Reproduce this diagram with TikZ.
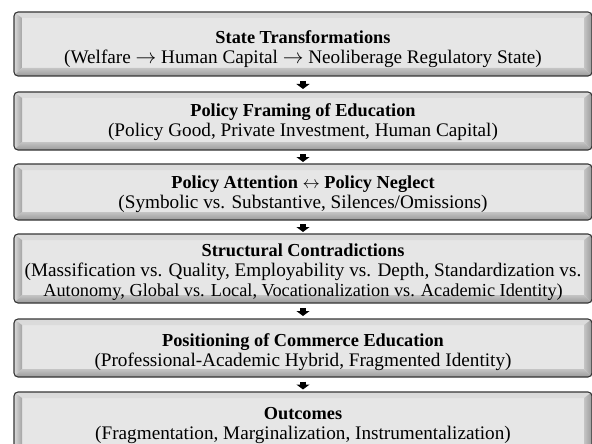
\documentclass[tikz,border=0pt]{standalone}
\usepackage{fontspec}
\setmainfont{Liberation Serif}
\usetikzlibrary{arrows.meta,calc}

\definecolor{face}{HTML}{E6E6E6}
\definecolor{edge}{HTML}{363636}
\definecolor{bevlight}{HTML}{DADADA}
\definecolor{bevmid}{HTML}{C4C4C4}
\definecolor{bevdark}{HTML}{9A9A9A}

% second line of each panel
\newcommand\detailfont{\fontsize{19.2}{20}\selectfont}

\tikzset{
  % bevelled panel: flat face inset in a shaded frame
  panel/.style={rectangle, rounded corners=4pt, draw=edge, line width=1.1pt,
    fill=face, minimum width=578pt, inner sep=0pt,
    path picture={
      \shade[sharp corners, top color=bevlight, bottom color=bevlight!70!white]
        (path picture bounding box.north west) -- (path picture bounding box.north east)
        -- ([shift={(-8,-6)}]path picture bounding box.north east)
        -- ([shift={(8,-6)}]path picture bounding box.north west) -- cycle;
      \shade[sharp corners, left color=bevlight, right color=bevdark!90!white]
        (path picture bounding box.north west) -- ([shift={(8,-6)}]path picture bounding box.north west)
        -- ([shift={(8,8)}]path picture bounding box.south west)
        -- (path picture bounding box.south west) -- cycle;
      \shade[sharp corners, left color=bevmid, right color=bevdark]
        (path picture bounding box.north east) -- ([shift={(-8,-6)}]path picture bounding box.north east)
        -- ([shift={(-8,8)}]path picture bounding box.south east)
        -- (path picture bounding box.south east) -- cycle;
      \shade[sharp corners, top color=bevmid, bottom color=bevdark]
        (path picture bounding box.south west) -- (path picture bounding box.south east)
        -- ([shift={(-8,8)}]path picture bounding box.south east)
        -- ([shift={(8,8)}]path picture bounding box.south west) -- cycle;
    }},
  caption/.style={align=center, inner sep=0pt, font=\fontsize{18.3}{20}\selectfont},
  flow/.style={black, line width=6pt, -{Triangle[width=13pt,length=5pt]}}
}

\begin{document}
\begin{tikzpicture}[x=1pt,y=1pt]
    \useasboundingbox (0,0) rectangle (592,-444);
    \clip (0,0) rectangle (592,-444);
    % panels
    \node[panel, minimum height=64pt] (trans) at (303,-44) {};
    \node[panel, minimum height=58pt] (framing) at (303,-121) {};
    \node[panel, minimum height=56pt] (attention) at (303,-192) {};
    \node[panel, minimum height=69pt] (contra) at (303,-268.5) {};
    \node[panel, minimum height=58pt] (commerce) at (303,-348) {};
    \node[panel, minimum height=60pt] (outcomes) at (303,-422) {};
    % panel texts
    \node[caption] (trans-txt) at (303,-49)
        {\textbf{State Transformations}\\\detailfont(Welfare $\rightarrow$ Human Capital $\rightarrow$ Neoliberage Regulatory State)};
    \node[caption] (framing-txt) at (303,-122.5)
        {\textbf{Policy Framing of Education}\\\detailfont(Policy Good, Private Investment, Human Capital)};
    \node[caption] (attention-txt) at (303,-194)
        {\textbf{Policy Attention $\leftrightarrow$ Policy Neglect}\\\detailfont(Symbolic vs. Substantive, Silences/Omissions)};
    \node[caption] (contra-txt) at (303,-272)
        {\textbf{Structural Contradictions}\\\detailfont(Massification vs. Quality, Employability vs. Depth, Standardization vs.\\Autonomy, Global vs. Local, Vocationalization vs. Academic Identity)};
    \node[caption] (commerce-txt) at (303,-352)
        {\textbf{Positioning of Commerce Education}\\\detailfont(Professional-Academic Hybrid, Fragmented Identity)};
    \node[caption] (outcomes-txt) at (303,-426)
        {\textbf{Outcomes}\\\detailfont(Fragmentation, Marginalization, Instrumentalization)};
    % arrows between the stages
    \foreach \a/\b in {trans/framing, framing/attention, attention/contra, contra/commerce, commerce/outcomes}
        \draw[flow] ($(\a.south)!0.5!(\b.north)+(0,3)$) -- ($(\a.south)!0.5!(\b.north)+(0,-5)$);
\end{tikzpicture}
\end{document}
